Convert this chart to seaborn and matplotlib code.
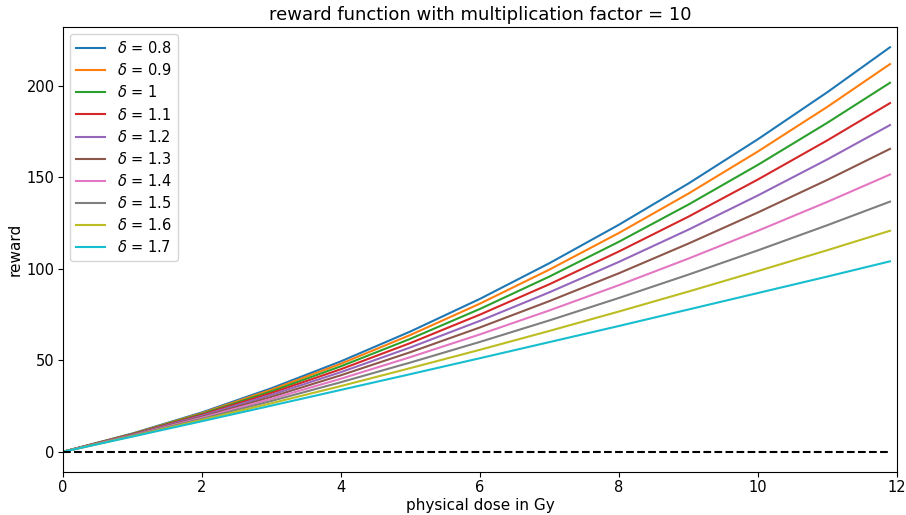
import numpy as np
import pandas as pd
import matplotlib
matplotlib.use("Agg")
import matplotlib.pyplot as plt
import seaborn as sns

dose = [0, 1, 2, 3, 4, 5, 6, 7, 8, 9, 10, 11, 11.9]
deltas = ["0.8", "0.9", "1", "1.1", "1.2", "1.3", "1.4", "1.5", "1.6", "1.7"]
r_08 = [0, 10.0, 21.5, 34.7, 49.4, 65.7, 83.5, 103.0, 124.0, 146.5, 170.7, 196.4, 220.9]
r_09 = [0, 9.8, 21.1, 33.9, 48.1, 63.8, 80.9, 99.5, 119.5, 141.0, 164.0, 188.4, 211.7]
r_10 = [0, 9.7, 20.7, 33.0, 46.7, 61.7, 78.0, 95.7, 114.7, 135.0, 156.7, 179.7, 201.5]
r_11 = [0, 9.5, 20.2, 32.1, 45.1, 59.4, 74.9, 91.5, 109.4, 128.4, 148.7, 170.1, 190.4]
r_12 = [0, 9.3, 19.7, 31.1, 43.5, 57.0, 71.5, 87.1, 103.7, 121.3, 140.0, 159.7, 178.4]
r_13 = [0, 9.1, 19.1, 30.0, 41.8, 54.4, 67.9, 82.3, 97.5, 113.7, 130.7, 148.5, 165.4]
r_14 = [0, 8.9, 18.6, 28.9, 39.9, 51.7, 64.1, 77.2, 91.0, 105.5, 120.7, 136.5, 151.4]
r_15 = [0, 8.75, 18.0, 27.75, 38.0, 48.75, 60.0, 71.75, 84.0, 96.75, 110.0, 123.75, 136.6]
r_16 = [0, 8.5, 17.4, 26.5, 35.9, 45.7, 55.7, 66.0, 76.6, 87.5, 98.7, 110.1, 120.7]
r_17 = [0, 8.3, 16.7, 25.2, 33.8, 42.4, 51.1, 59.9, 68.7, 77.7, 86.7, 95.7, 104.0]
series = [r_08, r_09, r_10, r_11, r_12, r_13, r_14, r_15, r_16, r_17]

labels = [r"$\delta$ = " + d for d in deltas]
rows = []
for lab, vals in zip(labels, series):
    for x, y in zip(dose, vals):
        rows.append({"dose": x, "reward": y, "delta": lab})
df = pd.DataFrame(rows)

plt.rcParams["font.family"] = ["DejaVu Sans"]

fig = plt.figure(figsize=(9.06, 5.15), dpi=100)
ax = fig.add_axes([0.0695, 0.0835, 0.9205, 0.864])
sns.lineplot(data=df, x="dose", y="reward", hue="delta", hue_order=labels,
             palette="tab10", ax=ax, linewidth=1.5)
ax.plot(dose, [0] * len(dose), "k--", linewidth=1.5)
ax.set_xlim(0, 12)
ax.set_xticks([0, 2, 4, 6, 8, 10, 12])
ax.set_yticks([0, 50, 100, 150, 200])
ax.tick_params(labelsize=10.5, pad=2.5)
ax.set_xlabel("physical dose in Gy", fontsize=11, labelpad=2)
ax.set_ylabel("reward", fontsize=11, labelpad=3)
ax.set_title("reward function with multiplication factor = 10", fontsize=13, pad=5)
leg = ax.legend(loc="upper left", fontsize=10.5, title=None, labelspacing=0.42)
fig.savefig("out.png", dpi=100)
